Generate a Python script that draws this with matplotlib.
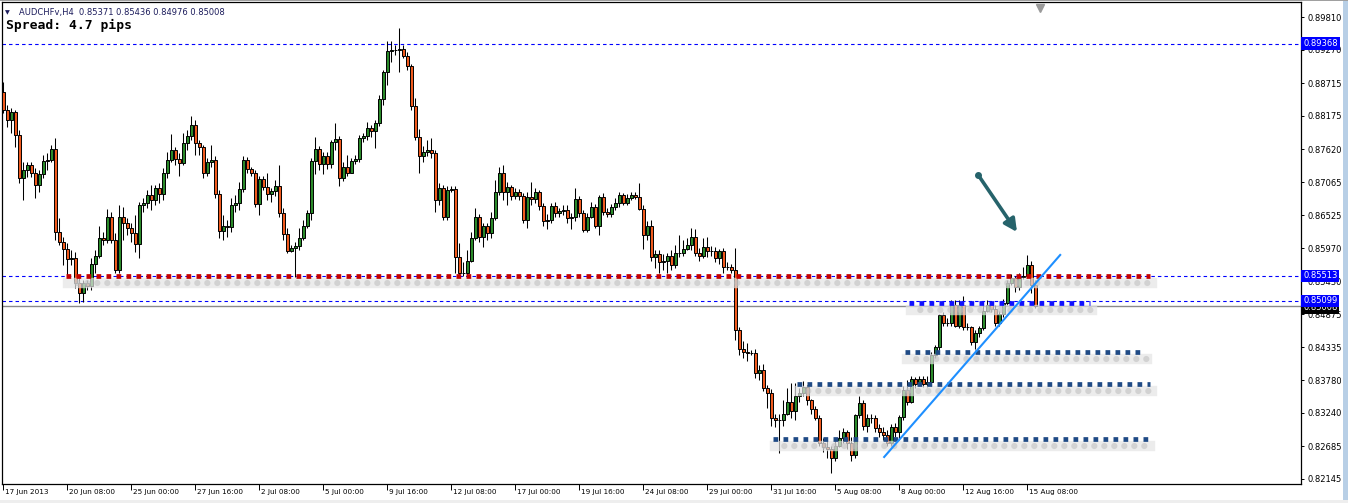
import numpy as np
import matplotlib.pyplot as plt
from matplotlib.transforms import blended_transform_factory, ScaledTranslation
from matplotlib.patches import Rectangle

plt.rcParams['lines.scale_dashes'] = False

# AUDCHF H4 candles (open = previous close)
first_open = 0.8856
closes = [0.8826, 0.8810, 0.8823, 0.8785, 0.8714, 0.8727, 0.8735, 0.8722, 0.8702, 0.8720,
          0.8742, 0.8743, 0.8762, 0.8624, 0.8607, 0.8596, 0.8579, 0.8581, 0.8539, 0.8523,
          0.8539, 0.8534, 0.8572, 0.8584, 0.8614, 0.8611, 0.8649, 0.8611, 0.8562, 0.8650,
          0.8639, 0.8631, 0.8622, 0.8604, 0.8669, 0.8672, 0.8685, 0.8677, 0.8697, 0.8687,
          0.8722, 0.8743, 0.8760, 0.8745, 0.8738, 0.8772, 0.8783, 0.8801, 0.8772, 0.8765,
          0.8722, 0.8740, 0.8743, 0.8687, 0.8626, 0.8635, 0.8632, 0.8669, 0.8672, 0.8695,
          0.8743, 0.8728, 0.8723, 0.8670, 0.8712, 0.8699, 0.8687, 0.8692, 0.8700, 0.8655,
          0.8621, 0.8592, 0.8597, 0.8601, 0.8614, 0.8634, 0.8655, 0.8742, 0.8762, 0.8737,
          0.8750, 0.8737, 0.8773, 0.8778, 0.8714, 0.8732, 0.8722, 0.8742, 0.8745, 0.8780,
          0.8783, 0.8797, 0.8792, 0.8805, 0.8845, 0.8889, 0.8924, 0.8926, 0.8926, 0.8928,
          0.8916, 0.8899, 0.8833, 0.8782, 0.8750, 0.8757, 0.8760, 0.8755, 0.8677, 0.8697,
          0.8649, 0.8694, 0.8695, 0.8582, 0.8557, 0.8556, 0.8577, 0.8614, 0.8649, 0.8616,
          0.8635, 0.8622, 0.8647, 0.8690, 0.8722, 0.8690, 0.8699, 0.8684, 0.8690, 0.8684,
          0.8645, 0.8682, 0.8679, 0.8690, 0.8667, 0.8642, 0.8645, 0.8667, 0.8655, 0.8659,
          0.8660, 0.8647, 0.8649, 0.8679, 0.8655, 0.8627, 0.8650, 0.8665, 0.8635, 0.8682,
          0.8657, 0.8654, 0.8665, 0.8672, 0.8685, 0.8672, 0.8680, 0.8685, 0.8682, 0.8662,
          0.8619, 0.8634, 0.8582, 0.8587, 0.8574, 0.8576, 0.8584, 0.8569, 0.8589, 0.8589,
          0.8596, 0.8602, 0.8616, 0.8589, 0.8584, 0.8599, 0.8592, 0.8592, 0.8581, 0.8592,
          0.8566, 0.8566, 0.8562, 0.8461, 0.8430, 0.8426, 0.8423, 0.8423, 0.8390, 0.8395,
          0.8365, 0.8358, 0.8315, 0.8313, 0.8312, 0.8323, 0.8343, 0.8328, 0.8353, 0.8357,
          0.8367, 0.8345, 0.8330, 0.8315, 0.8275, 0.8267, 0.8264, 0.8250, 0.8270, 0.8282,
          0.8292, 0.8274, 0.8254, 0.8320, 0.8340, 0.8302, 0.8315, 0.8315, 0.8299, 0.8292,
          0.8287, 0.8275, 0.8300, 0.8292, 0.8317, 0.8362, 0.8342, 0.8380, 0.8372, 0.8380,
          0.8372, 0.8375, 0.8420, 0.8433, 0.8486, 0.8473, 0.8474, 0.8503, 0.8469, 0.8503,
          0.8466, 0.8466, 0.8441, 0.8456, 0.8465, 0.8494, 0.8503, 0.8496, 0.8473, 0.8488,
          0.8506, 0.8539, 0.8548, 0.8533, 0.8549, 0.8552, 0.8569, 0.8537, 0.8501]
highs = [0.8873, 0.8835, 0.8830, 0.8826, 0.8793, 0.8740, 0.8740, 0.8740, 0.8730, 0.8727,
         0.8752, 0.8755, 0.8768, 0.8780, 0.8647, 0.8616, 0.8606, 0.8594, 0.8591, 0.8551,
         0.8544, 0.8544, 0.8581, 0.8594, 0.8635, 0.8624, 0.8662, 0.8657, 0.8622, 0.8669,
         0.8665, 0.8647, 0.8640, 0.8652, 0.8674, 0.8680, 0.8694, 0.8702, 0.8702, 0.8705,
         0.8730, 0.8757, 0.8787, 0.8765, 0.8755, 0.8788, 0.8793, 0.8816, 0.8810, 0.8777,
         0.8768, 0.8747, 0.8768, 0.8750, 0.8694, 0.8652, 0.8644, 0.8680, 0.8685, 0.8707,
         0.8750, 0.8748, 0.8732, 0.8727, 0.8718, 0.8717, 0.8722, 0.8697, 0.8710, 0.8735,
         0.8664, 0.8631, 0.8602, 0.8607, 0.8631, 0.8644, 0.8660, 0.8747, 0.8782, 0.8767,
         0.8757, 0.8757, 0.8777, 0.8805, 0.8783, 0.8740, 0.8752, 0.8747, 0.8752, 0.8785,
         0.8788, 0.8806, 0.8801, 0.8810, 0.8851, 0.8893, 0.8941, 0.8941, 0.8934, 0.8963,
         0.8934, 0.8923, 0.8903, 0.8846, 0.8795, 0.8767, 0.8777, 0.8780, 0.8760, 0.8705,
         0.8702, 0.8700, 0.8700, 0.8700, 0.8606, 0.8574, 0.8594, 0.8624, 0.8664, 0.8654,
         0.8640, 0.8640, 0.8657, 0.8710, 0.8732, 0.8735, 0.8707, 0.8702, 0.8697, 0.8695,
         0.8689, 0.8690, 0.8707, 0.8697, 0.8694, 0.8672, 0.8654, 0.8672, 0.8674, 0.8664,
         0.8669, 0.8669, 0.8655, 0.8697, 0.8684, 0.8660, 0.8655, 0.8674, 0.8670, 0.8685,
         0.8689, 0.8664, 0.8670, 0.8680, 0.8690, 0.8689, 0.8687, 0.8690, 0.8690, 0.8705,
         0.8669, 0.8642, 0.8644, 0.8594, 0.8594, 0.8587, 0.8589, 0.8594, 0.8602, 0.8619,
         0.8611, 0.8614, 0.8631, 0.8629, 0.8597, 0.8614, 0.8616, 0.8601, 0.8599, 0.8596,
         0.8597, 0.8574, 0.8571, 0.8597, 0.8466, 0.8443, 0.8440, 0.8428, 0.8430, 0.8403,
         0.8406, 0.8370, 0.8363, 0.8322, 0.8323, 0.8345, 0.8365, 0.8373, 0.8373, 0.8365,
         0.8377, 0.8370, 0.8348, 0.8335, 0.8320, 0.8282, 0.8279, 0.8269, 0.8279, 0.8295,
         0.8299, 0.8295, 0.8284, 0.8323, 0.8352, 0.8345, 0.8322, 0.8322, 0.8320, 0.8305,
         0.8300, 0.8295, 0.8305, 0.8308, 0.8320, 0.8368, 0.8378, 0.8385, 0.8383, 0.8386,
         0.8385, 0.8385, 0.8425, 0.8436, 0.8489, 0.8491, 0.8481, 0.8511, 0.8511, 0.8511,
         0.8518, 0.8474, 0.8469, 0.8461, 0.8469, 0.8503, 0.8511, 0.8509, 0.8503, 0.8494,
         0.8513, 0.8544, 0.8554, 0.8552, 0.8556, 0.8566, 0.8586, 0.8577, 0.8544]
lows = [0.8821, 0.8798, 0.8788, 0.8765, 0.8705, 0.8677, 0.8715, 0.8715, 0.8680, 0.8690,
        0.8714, 0.8727, 0.8740, 0.8611, 0.8602, 0.8569, 0.8549, 0.8569, 0.8531, 0.8506,
        0.8508, 0.8528, 0.8528, 0.8556, 0.8581, 0.8602, 0.8606, 0.8606, 0.8556, 0.8557,
        0.8611, 0.8619, 0.8607, 0.8591, 0.8581, 0.8657, 0.8664, 0.8660, 0.8669, 0.8672,
        0.8677, 0.8714, 0.8740, 0.8735, 0.8718, 0.8735, 0.8760, 0.8777, 0.8752, 0.8752,
        0.8714, 0.8718, 0.8732, 0.8680, 0.8614, 0.8611, 0.8616, 0.8624, 0.8657, 0.8660,
        0.8690, 0.8723, 0.8717, 0.8665, 0.8652, 0.8694, 0.8677, 0.8674, 0.8684, 0.8650,
        0.8611, 0.8589, 0.8591, 0.8549, 0.8594, 0.8611, 0.8631, 0.8644, 0.8720, 0.8727,
        0.8720, 0.8728, 0.8730, 0.8760, 0.8700, 0.8709, 0.8717, 0.8727, 0.8737, 0.8740,
        0.8773, 0.8777, 0.8782, 0.8763, 0.8800, 0.8835, 0.8868, 0.8906, 0.8918, 0.8889,
        0.8913, 0.8893, 0.8826, 0.8777, 0.8723, 0.8740, 0.8750, 0.8747, 0.8657, 0.8669,
        0.8644, 0.8644, 0.8690, 0.8556, 0.8551, 0.8551, 0.8552, 0.8574, 0.8611, 0.8607,
        0.8599, 0.8611, 0.8614, 0.8644, 0.8685, 0.8677, 0.8669, 0.8677, 0.8679, 0.8677,
        0.8640, 0.8631, 0.8669, 0.8672, 0.8660, 0.8635, 0.8629, 0.8639, 0.8650, 0.8650,
        0.8652, 0.8640, 0.8629, 0.8642, 0.8650, 0.8624, 0.8624, 0.8647, 0.8631, 0.8619,
        0.8652, 0.8649, 0.8650, 0.8660, 0.8665, 0.8669, 0.8669, 0.8677, 0.8679, 0.8660,
        0.8596, 0.8611, 0.8577, 0.8564, 0.8557, 0.8562, 0.8557, 0.8561, 0.8564, 0.8582,
        0.8584, 0.8594, 0.8594, 0.8584, 0.8577, 0.8581, 0.8582, 0.8584, 0.8574, 0.8571,
        0.8557, 0.8561, 0.8556, 0.8445, 0.8420, 0.8416, 0.8411, 0.8420, 0.8382, 0.8378,
        0.8360, 0.8332, 0.8303, 0.8300, 0.8257, 0.8303, 0.8320, 0.8315, 0.8312, 0.8342,
        0.8352, 0.8337, 0.8323, 0.8312, 0.8269, 0.8259, 0.8249, 0.8225, 0.8245, 0.8267,
        0.8275, 0.8265, 0.8245, 0.8249, 0.8315, 0.8295, 0.8292, 0.8307, 0.8292, 0.8285,
        0.8279, 0.8270, 0.8270, 0.8284, 0.8279, 0.8312, 0.8338, 0.8340, 0.8365, 0.8368,
        0.8367, 0.8367, 0.8368, 0.8415, 0.8428, 0.8468, 0.8468, 0.8469, 0.8466, 0.8465,
        0.8461, 0.8461, 0.8436, 0.8431, 0.8450, 0.8461, 0.8491, 0.8491, 0.8469, 0.8468,
        0.8484, 0.8503, 0.8536, 0.8524, 0.8528, 0.8546, 0.8548, 0.8523, 0.8498]

date_ticks = [0, 16, 32, 48, 64, 80, 96, 112, 128, 144, 160, 176, 192, 208, 224, 240, 256]
date_labels = ["17 Jun 2013", "20 Jun 08:00", "25 Jun 00:00", "27 Jun 16:00", "2 Jul 08:00",
               "5 Jul 00:00", "9 Jul 16:00", "12 Jul 08:00", "17 Jul 00:00", "19 Jul 16:00",
               "24 Jul 08:00", "29 Jul 00:00", "31 Jul 16:00", "5 Aug 08:00", "8 Aug 00:00",
               "12 Aug 16:00", "15 Aug 08:00"]
price_ticks = [0.89810, 0.89270, 0.88715, 0.88175, 0.87620, 0.87065, 0.86525, 0.85970,
               0.85430, 0.84875, 0.84335, 0.83780, 0.83240, 0.82685, 0.82145]
marked_levels = [0.89368, 0.85513, 0.85099]
bid = 0.85008

# drawn support / resistance levels
sr_levels = [0.85513, 0.85065, 0.84257, 0.83716, 0.82804]
sr_from = [15.7, 226.4, 225.4, 198.4, 192.4]
sr_to = [286.7, 271.7, 285.4, 286.7, 286.2]
sr_colors = ['#c40000', '#1010ff', '#1f4a85', '#1f4a85', '#1f4a85']

trend_x = [220.2, 264.2]
trend_y = [0.8251, 0.85862]
arrow_tail = (243.7, 0.87189)
arrow_head = (253.4, 0.86243)

n = len(closes)
x = np.arange(n)
c = np.array(closes)
o = np.array([first_open] + closes[:-1])
h = np.array(highs)
l = np.array(lows)
up = c >= o

fig = plt.figure(figsize=(13.48, 5.03), dpi=100)
ax = fig.add_axes([2/1348, 19/503, 1299/1348, 482/503])
ax.set_xlim(-0.325, 324.4)
ax.set_ylim(0.82062, 0.90059)

# candles
ax.vlines(x, l, h, color='black', lw=0.75, zorder=2)
body = np.maximum(np.abs(c - o), 0.00003)
ax.bar(x, body, bottom=np.minimum(o, c), width=0.68,
       color=np.where(up, '#2a8a2a', '#f05a1e'), edgecolor='black', lw=0.7, zorder=3)

# platform lines
for lv in marked_levels:
    ax.axhline(lv, color='#0000ff', lw=0.8, ls=(0, (2.5, 2.2)), zorder=1)
ax.axhline(bid, color='#8a8a8a', lw=1.0, zorder=1)

# dotted levels with a soft shadow
shift_y = 0.00118
for lv, a, b, col in zip(sr_levels, sr_from, sr_to, sr_colors):
    sy = [lv - shift_y, lv - shift_y]
    sx = [a + 0.5, b + 0.5]
    ax.plot(sx, sy, color='#e4e4e4', lw=7.5, alpha=0.7, zorder=4)
    ax.plot(sx, sy, color='#bdbdbd', lw=4.5, alpha=0.55, ls=(0.5, (0.01, 7.19)),
            dash_capstyle='round', zorder=4)
    ax.plot([a, b], [lv, lv], color=col, lw=3.4, ls=(0, (3.4, 3.8)), zorder=5)

ax.plot(trend_x, trend_y, color='#1e8fff', lw=1.5, zorder=6)
ax.annotate('', xy=arrow_head, xytext=arrow_tail,
            arrowprops=dict(arrowstyle='-|>,head_length=0.75,head_width=0.38',
                            color='#26636b', lw=2.6, shrinkA=0, shrinkB=0), zorder=6)
ax.plot(*arrow_tail, 'o', color='#26636b', ms=4, zorder=6)

# shift marker at top
top = blended_transform_factory(ax.transData, ax.transAxes)
ax.plot(259.2, 0.988, marker='v', color='#9a9a9a', ms=6, transform=top, clip_on=False)

# axes
for s in ax.spines.values():
    s.set_linewidth(0.9)
    s.set_color('black')
ax.yaxis.tick_right()
ax.set_yticks(price_ticks)
ax.set_yticklabels(['%.5f' % p for p in price_ticks])
ax.tick_params(axis='y', direction='out', length=2.5, pad=2, labelsize=6, width=0.7)
ax.set_xticks(date_ticks)
ax.set_xticklabels(date_labels, ha='left')
ax.tick_params(axis='x', direction='out', length=4, pad=-0.5, labelsize=5.2, width=0.7)
for lab in ax.get_xticklabels():
    lab.set_transform(lab.get_transform() + ScaledTranslation(2/100, 0, fig.dpi_scale_trans))

# price labels on the right scale
rt = blended_transform_factory(ax.transAxes, ax.transData)
ax.text(1.0016, bid - 0.0002, '%.5f' % bid, transform=rt, ha='left', va='center', color='white',
        fontsize=6, zorder=7, clip_on=False,
        bbox=dict(boxstyle='square,pad=0.22', fc='black', ec='none'))
for lv in marked_levels:
    ax.text(1.0016, lv, '%.5f' % lv, transform=rt, ha='left', va='center', color='white',
            fontsize=6, zorder=8, clip_on=False,
            bbox=dict(boxstyle='square,pad=0.22', fc='#0000ff', ec='none'))

# header texts
fig.text(5/1348, 1 - 13/503, '\u25bc', fontsize=4.5, color='#1c1c5c', va='center')
fig.text(19/1348, 1 - 13/503, 'AUDCHFv,H4  0.85371 0.85436 0.84976 0.85008',
         fontsize=6, color='#1c1c5c', va='center')
fig.text(6/1348, 1 - 25/503, 'Spread: 4.7 pips', fontsize=9.4, family='DejaVu Sans Mono',
         weight='bold', color='black', va='center')

# window frame bits
fig.patches.append(Rectangle((1343/1348, 0), 5/1348, 1, transform=fig.transFigure,
                             fc='#b8cfe6', ec='none'))
fig.patches.append(Rectangle((0, 0), 1, 3/503, transform=fig.transFigure,
                             fc='#eeeeee', ec='none'))
fig.patches.append(Rectangle((0, 1 - 1/503), 1, 1/503, transform=fig.transFigure,
                             fc='#a0a0a0', ec='none'))

fig.savefig('out.png', dpi=100)
